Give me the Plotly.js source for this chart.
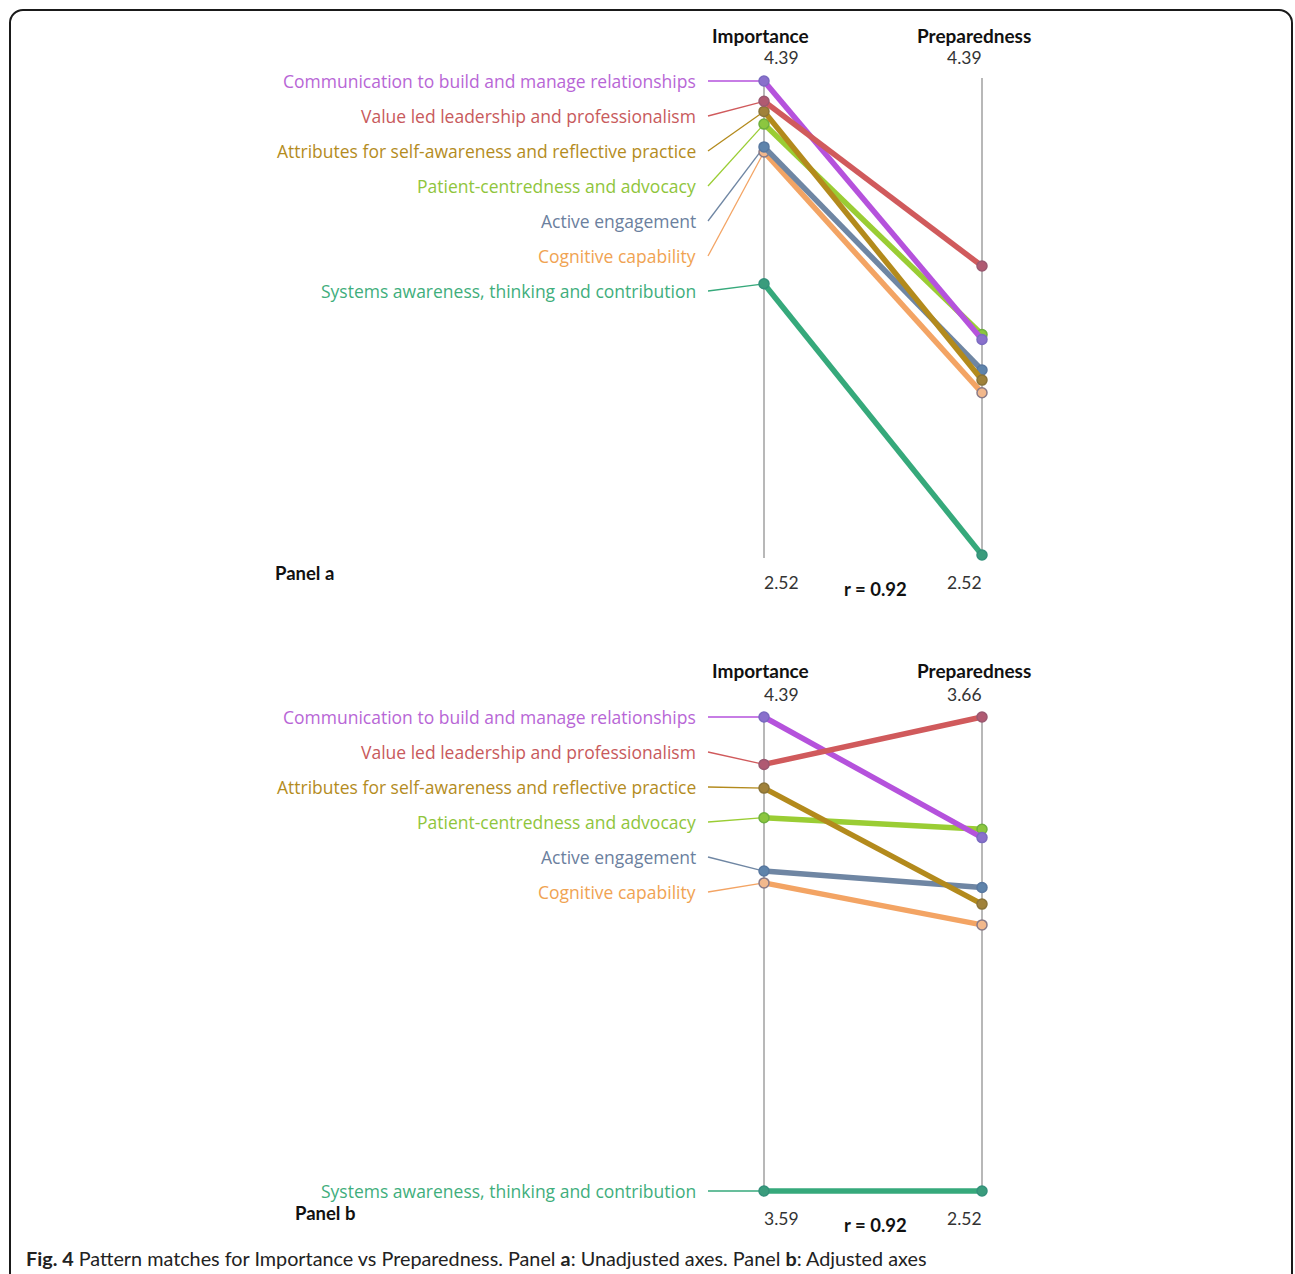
<!DOCTYPE html>
<html><head><meta charset="utf-8">
<script src="https://cdn.plot.ly/plotly-3.0.1.min.js"></script>
<style>
html,body{margin:0;padding:0;background:#fff;overflow:hidden}
#frame{position:absolute;left:9px;top:9px;width:1280px;height:1320px;border:2px solid #1a1a1a;border-radius:14px;}
#chart{position:absolute;left:0;top:0;width:1295px;height:1274px;}
</style></head><body>
<div id="frame"></div><div id="chart"></div>
<script>
// ---------------- DATA ----------------
const competencies = [
  "Communication to build and manage relationships",
  "Value led leadership and professionalism",
  "Attributes for self-awareness and reflective practice",
  "Patient-centredness and advocacy",
  "Active engagement",
  "Cognitive capability",
  "Systems awareness, thinking and contribution"
];
const importance   = [4.39, 4.31, 4.27, 4.22, 4.13, 4.11, 3.59];
const preparedness = [3.37, 3.66, 3.21, 3.39, 3.25, 3.16, 2.52];
const axisNames = ["Importance", "Preparedness"];
const panelAImpRange  = [2.52, 4.39];
const panelAPrepRange = [2.52, 4.39];
const panelBImpRange  = [3.59, 4.39];
const panelBPrepRange = [2.52, 3.66];
const panelNames = ["Panel a", "Panel b"];
const rLabels = ["r = 0.92", "r = 0.92"];

// ---------------- STYLE ----------------
const lineColors   = ["#b552dc", "#d05a5c", "#b38a1c", "#9acd34", "#6f86a3", "#f3a464", "#36a97b"];
const markerColors = ["#8a70cc", "#b05a72", "#a0823a", "#8cc63f", "#5f84ab", "#f2b88c", "#3a9c7c"];
const markerLines  = ["#7a6ac0", "#9a5870", "#8a7438", "#6fb03e", "#5878a0", "#8a7a86", "#33907a"];
const labelColors  = ["#b866d6", "#c85a5c", "#b48c1e", "#8fc53c", "#6b809e", "#f0a352", "#3fae7c"];

const W = 1295, H = 1274;
const X0 = 764, XPX = 218;
const xr = [-X0 / XPX, (W - X0) / XPX];
const px2x = p => (p - X0) / XPX;
const py2paper = p => 1 - p / H;
const PAD = 14;

const panels = [
  {top: 81, bot: 555, imp: panelAImpRange, prep: panelAPrepRange, xa: "x", ya: "y",
   head: 35, headNum: 58, botNum: 582, rY: 589, panelX: 273, panelY: 573, sysAtPoint: false},
  {top: 717, bot: 1191, imp: panelBImpRange, prep: panelBPrepRange, xa: "x2", ya: "y2",
   head: 671, headNum: 694, botNum: 1218, rY: 1225, panelX: 293, panelY: 1213, sysAtPoint: true}
];

const traces = [];
const shapes = [];
const annotations = [];
const order = [6, 5, 4, 3, 2, 0, 1];
const numFont = {family: "Lato", size: 17.5, color: "#333"};
const headFont = {family: "Lato", size: 19, color: "#111", weight: 700};
const boldFont = {family: "Lato", size: 18.5, color: "#111", weight: 700};
const labelFamily = "Open Sans";

panels.forEach((P, pi) => {
  const pxPerUnit = (P.bot - P.top) / (P.imp[1] - P.imp[0]);
  const mapPrep = v => P.imp[0] + (v - P.prep[0]) / (P.prep[1] - P.prep[0]) * (P.imp[1] - P.imp[0]);
  const pxToY = p => P.imp[1] - (p - P.top) / pxPerUnit;
  P.range = [P.imp[0] - PAD / pxPerUnit, P.imp[1] + PAD / pxPerUnit];
  P.domain = [py2paper(P.bot + PAD), py2paper(P.top - PAD)];

  [[0, P.top, P.bot + 3], [1, P.top - 3, P.bot + 3]].forEach(([xv, t, b]) => {
    shapes.push({type: "line", xref: P.xa, yref: P.ya, x0: xv, x1: xv, y0: pxToY(t), y1: pxToY(b),
      line: {color: "#a0a0a0", width: 1.5}, layer: "below"});
  });

  competencies.forEach((name, i) => {
    let ly = pxToY(P.top + 35 * i);
    if (P.sysAtPoint && i === competencies.length - 1) ly = importance[i];
    traces.push({type: "scatter", mode: "lines", xaxis: P.xa, yaxis: P.ya, cliponaxis: false,
      x: [px2x(708), 0], y: [ly, importance[i]], hoverinfo: "skip", showlegend: false,
      line: {color: lineColors[i], width: 1.3}});
    annotations.push({xref: P.xa, yref: P.ya, x: px2x(698), y: ly, xanchor: "right", yanchor: "middle",
      text: name, showarrow: false,
      font: {family: labelFamily, size: 17.5, color: labelColors[i]}});
  });

  order.forEach(i => {
    traces.push({type: "scatter", mode: "lines+markers", xaxis: P.xa, yaxis: P.ya, cliponaxis: false,
      x: [0, 1], y: [importance[i], mapPrep(preparedness[i])], name: competencies[i], showlegend: false,
      line: {color: lineColors[i], width: 5.5},
      marker: {size: 10, color: markerColors[i], line: {color: markerLines[i], width: 1.5}}});
  });

  const add = (x, y, text, font, xanchor) => annotations.push({xref: "paper", yref: "paper", x: x / W, y: py2paper(y),
    text: text, showarrow: false, xanchor: xanchor || "center", yanchor: "middle", font: font});
  add(760, P.head, "<b>" + axisNames[0] + "</b>", headFont);
  add(974, P.head, "<b>" + axisNames[1] + "</b>", headFont);
  add(781, P.headNum, P.imp[1].toFixed(2), numFont);
  add(965, P.headNum, P.prep[1].toFixed(2), numFont);
  add(781, P.botNum, P.imp[0].toFixed(2), numFont);
  add(965, P.botNum, P.prep[0].toFixed(2), numFont);
  add(875, P.rY, "<b>" + rLabels[pi] + "</b>", boldFont);
  add(P.panelX, P.panelY, "<b>" + panelNames[pi] + "</b>", boldFont, "left");
});

annotations.push({xref: "paper", yref: "paper", x: 24 / W, y: py2paper(1258), xanchor: "left", yanchor: "middle",
  showarrow: false,
  text: "<b>Fig. 4</b> Pattern matches for Importance vs Preparedness. Panel <b>a</b>: Unadjusted axes. Panel <b>b</b>: Adjusted axes",
  font: {family: "Lato", size: 19.8, color: "#222"}});

const ax = {visible: false, fixedrange: true};
const layout = {
  width: W, height: H, margin: {l: 0, r: 0, t: 0, b: 0},
  paper_bgcolor: "rgba(0,0,0,0)", plot_bgcolor: "rgba(0,0,0,0)",
  showlegend: false,
  xaxis:  Object.assign({}, ax, {range: xr, domain: [0, 1], anchor: "y"}),
  yaxis:  Object.assign({}, ax, {range: panels[0].range, domain: panels[0].domain, anchor: "x"}),
  xaxis2: Object.assign({}, ax, {range: xr, domain: [0, 1], anchor: "y2"}),
  yaxis2: Object.assign({}, ax, {range: panels[1].range, domain: panels[1].domain, anchor: "x2"}),
  shapes: shapes, annotations: annotations
};
Plotly.newPlot("chart", traces, layout, {staticPlot: true, displayModeBar: false});
</script>
</body></html>
